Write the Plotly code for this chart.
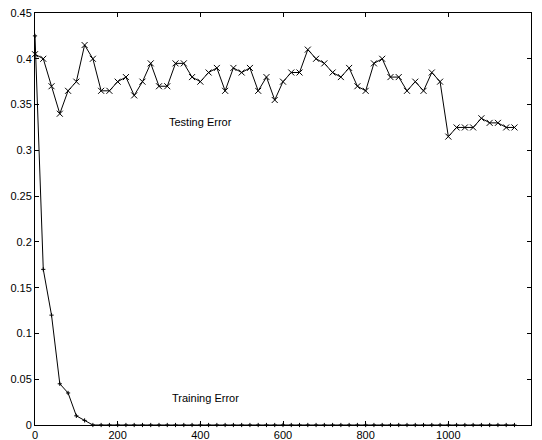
import plotly.graph_objects as go

# Iteration index (every 20 iterations)
iterations = list(range(0, 1180, 20))

# Test-set error at each evaluated iteration
testing_error = [
    0.405, 0.400, 0.370, 0.340, 0.365, 0.375, 0.415, 0.400, 0.365, 0.365,
    0.375, 0.380, 0.360, 0.375, 0.395, 0.370, 0.370, 0.395, 0.395, 0.380,
    0.375, 0.385, 0.390, 0.365, 0.390, 0.385, 0.390, 0.365, 0.380, 0.355,
    0.375, 0.385, 0.385, 0.410, 0.400, 0.395, 0.385, 0.380, 0.390, 0.370,
    0.365, 0.395, 0.400, 0.380, 0.380, 0.365, 0.375, 0.365, 0.385, 0.375,
    0.315, 0.325, 0.325, 0.325, 0.335, 0.330, 0.330, 0.325, 0.325,
]

# Training-set error at each evaluated iteration
training_error = [0.425, 0.170, 0.120, 0.045, 0.035, 0.010, 0.005] + [0.0] * 52

x_ticks = [0, 200, 400, 600, 800, 1000, 1200]
y_ticks = [0, 0.05, 0.1, 0.15, 0.2, 0.25, 0.3, 0.35, 0.4, 0.45]
y_tick_text = ["0", "0.05", "0.1", "0.15", "0.2", "0.25", "0.3", "0.35", "0.4", "0.45"]

fig = go.Figure()

fig.add_trace(go.Scatter(
    x=iterations, y=testing_error, mode="lines+markers",
    line=dict(color="black", width=1),
    marker=dict(symbol="x-thin", size=6, line=dict(color="black", width=1)),
    cliponaxis=False, showlegend=False,
))

fig.add_trace(go.Scatter(
    x=iterations, y=training_error, mode="lines+markers",
    line=dict(color="black", width=1),
    marker=dict(symbol="cross-thin", size=3, line=dict(color="black", width=1)),
    cliponaxis=False, showlegend=False,
))

fig.add_annotation(x=400, y=0.331, text="Testing Error", showarrow=False,
                   font=dict(size=11, color="black"))
fig.add_annotation(x=412, y=0.0295, text="Training Error", showarrow=False,
                   font=dict(size=11, color="black"))

axis_common = dict(
    showgrid=False, zeroline=False, showline=True, linecolor="black",
    linewidth=1, mirror="ticks", ticks="inside", ticklen=4, tickwidth=1,
    tickcolor="black", tickfont=dict(size=11, color="black"), automargin=False,
)

fig.update_xaxes(range=[0, 1200], tickvals=x_ticks,
                 ticktext=[str(v) for v in x_ticks], **axis_common)
fig.update_yaxes(range=[0, 0.45], tickvals=y_ticks,
                 ticktext=y_tick_text, **axis_common)

fig.update_layout(
    width=542, height=440,
    margin=dict(l=35, r=11, t=13, b=15),
    paper_bgcolor="white", plot_bgcolor="white",
    font=dict(family="Liberation Sans, Arial, sans-serif", color="black"),
)

fig.write_html("out.html")
